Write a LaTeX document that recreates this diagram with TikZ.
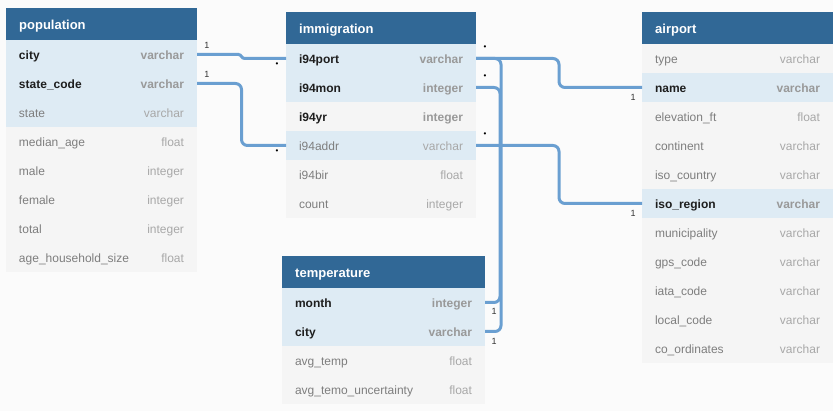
\documentclass[tikz,border=0pt]{standalone}
\usepackage{fontspec}
\setmainfont{Liberation Sans}
\usetikzlibrary{calc}
\definecolor{hdr}{HTML}{316896}
\definecolor{hl}{HTML}{DEEBF4}
\definecolor{nr}{HTML}{F5F5F5}
\definecolor{bg}{HTML}{FBFBFB}
\definecolor{lnk}{HTML}{6A9FD1}
\definecolor{keytxt}{HTML}{1E1E1E}
\definecolor{keytype}{HTML}{999999}
\definecolor{txt}{HTML}{7E7E7E}
\definecolor{typ}{HTML}{A8A8A8}
\definecolor{lbl}{HTML}{333333}
\tikzset{
  cell/.style={rectangle, inner sep=0pt, outer sep=0pt, minimum height=29pt, anchor=north west},
  rowkh/.style={cell, fill=hl},
  rownh/.style={cell, fill=hl},
  rowk/.style={cell, fill=nr},
  rown/.style={cell, fill=nr},
  rowstyle/.style={row#1},
  ftxt/.style={inner sep=0pt, outer sep=0pt, text height=13pt, text depth=2.5pt},
  namekh/.style={ftxt, anchor=west, text=keytxt, font=\fontsize{12}{14}\selectfont\bfseries},
  namek/.style={namekh},
  namenh/.style={ftxt, anchor=west, text=txt, font=\fontsize{12}{14}\selectfont},
  namen/.style={namenh},
  namestyle/.style={name#1},
  typekh/.style={ftxt, anchor=east, text=keytype, font=\fontsize{12}{14}\selectfont\bfseries},
  typek/.style={typekh},
  typenh/.style={ftxt, anchor=east, text=typ, font=\fontsize{12}{14}\selectfont},
  typen/.style={typenh},
  typestyle/.style={type#1},
  hdrbox/.style={rectangle, fill=hdr, minimum height=32pt, inner sep=0pt, outer sep=0pt, anchor=north west},
  hdrtext/.style={inner sep=0pt, anchor=west, text=white, font=\fontsize{13}{15}\selectfont\bfseries, text height=13.5pt, text depth=3pt},
  link/.style={draw=lnk, line width=3pt, rounded corners=6pt},
  one/.style={inner sep=0pt, text=lbl, font=\fontsize{9}{10}\selectfont},
  many/.style={inner sep=0pt, text=black, font=\fontsize{8}{8}\selectfont},
}
\newcommand\dbtable[6]{%
  \node[hdrbox, minimum width=#5pt] (#1-h) at (#3,#4) {};
  \node[hdrtext] (#1-t) at ([xshift=13pt]#1-h.west) {#2};
  \foreach \fn/\ft/\st [count=\i] in {#6} {
    \node[rowstyle/.expanded=\st, minimum width=#5pt] (#1-\i) at (#3,{#4+32+29*(\i-1)}) {};
    \node[namestyle/.expanded=\st] (#1-\i-n) at ([xshift=13pt]#1-\i.west) {\fn};
    \node[typestyle/.expanded=\st] (#1-\i-y) at ([xshift=-13pt]#1-\i.east) {\ft};
  }
}
\begin{document}
\begin{tikzpicture}[x=1pt, y=-1pt]
\useasboundingbox[fill=bg] (0,0) rectangle (833,411);

\dbtable{pop}{population}{6}{8}{191}{city/varchar/kh, state\_code/varchar/kh, state/varchar/nh, median\_age/float/n, male/integer/n, female/integer/n, total/integer/n, age\_household\_size/float/n}
\dbtable{imm}{immigration}{286}{12}{190}{i94port/varchar/kh, i94mon/integer/kh, i94yr/integer/k, i94addr/varchar/nh, i94bir/float/n, count/integer/n}
\dbtable{tmp}{temperature}{282}{256}{203}{month/integer/kh, city/varchar/kh, avg\_temp/float/n, avg\_temo\_uncertainty/float/n}
\dbtable{air}{airport}{642}{12}{191}{type/varchar/n, name/varchar/kh, elevation\_ft/float/n, continent/varchar/n, iso\_country/varchar/n, iso\_region/varchar/kh, municipality/varchar/n, gps\_code/varchar/n, iata\_code/varchar/n, local\_code/varchar/n, co\_ordinates/varchar/n}

% connectors
\coordinate (mid1) at ($(pop-1.east)!.5!(imm-1.west)$);
\coordinate (s1) at (pop-1.east -| mid1);
\coordinate (s2) at (imm-1.west -| mid1);
\draw[link, rounded corners=0pt] (pop-1.east) -- ([xshift=-3pt]s1) .. controls (s1) and (s2) .. ([xshift=3pt]s2) -- (imm-1.west);
\draw[link] (pop-2.east) -| ($(pop-2.east)!.5!(imm-4.west)$) |- (imm-4.west);
\draw[link] (imm-1.east) -| ($(imm-1.east)!.5!(air-2.west)$) |- (air-2.west);
\draw[link] (imm-4.east) -| ($(imm-4.east)!.5!(air-6.west)$) |- (air-6.west);
\coordinate (vc) at ([xshift=16pt]tmp-2.east);
\coordinate (vm) at ([xshift=15pt]tmp-1.east);
\draw[link] (imm-1.east) -| (vc) -- (tmp-2.east);
\draw[link] (imm-2.east) -| (vm) -- (tmp-1.east);

% cardinality labels
\node[one] (c1) at ([xshift=10pt,yshift=9pt]pop-1.east) {1};
\node[one] (c2) at ([xshift=10pt,yshift=9pt]pop-2.east) {1};
\node[many] (m1) at ([xshift=-9pt,yshift=-6.5pt]imm-1.west) {•};
\node[many] (m2) at ([xshift=-9pt,yshift=-6.5pt]imm-4.west) {•};
\node[many] (m3) at ([xshift=9pt,yshift=11pt]imm-1.east) {•};
\node[many] (m4) at ([xshift=9pt,yshift=11pt]imm-2.east) {•};
\node[many] (m5) at ([xshift=9pt,yshift=11pt]imm-4.east) {•};
\node[one] (c3) at ([xshift=-9pt,yshift=-9.5pt]air-2.west) {1};
\node[one] (c4) at ([xshift=-9pt,yshift=-9.5pt]air-6.west) {1};
\node[one] (c5) at ([xshift=9pt,yshift=-9pt]tmp-1.east) {1};
\node[one] (c6) at ([xshift=9pt,yshift=-9.5pt]tmp-2.east) {1};
\end{tikzpicture}
\end{document}
